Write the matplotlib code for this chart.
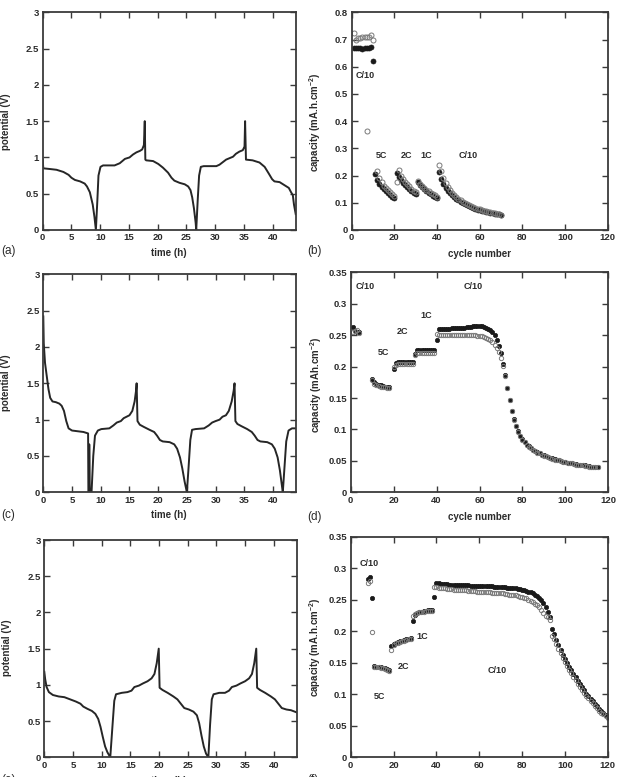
import matplotlib
matplotlib.use("Agg")
import matplotlib.pyplot as plt
from matplotlib.ticker import FuncFormatter

plt.rcParams['font.family'] = ['Liberation Sans', 'DejaVu Sans']
plt.rcParams['mathtext.default'] = 'regular'

# ---------------- data: potential vs time ----------------
ta = [0, 0.1, 1.3, 2.4, 3.6, 4.5, 5.0, 5.6, 6.5, 7.3, 7.7, 8.2, 8.7, 9.0, 9.25, 9.5, 9.7, 10.05,
      10.5, 12.5, 13.4, 14.3, 15.1, 15.7, 16.3, 16.9, 17.3, 17.6, 17.75, 17.85,
      18.0, 19.2, 20.1, 20.9, 21.8, 22.4, 22.9, 23.8, 24.7, 25.3, 25.7, 26.0, 26.3, 26.6, 26.7,
      26.95, 27.2, 27.5, 28.0, 30.2, 30.75, 31.9, 33.1, 33.6, 34.2, 34.8, 35.1, 35.2, 35.35,
      36.5, 37.7, 38.6, 39.3, 39.9, 40.3, 41.2, 42.0, 42.8, 43.2, 43.5, 43.7, 44.0]
va = [0.97, 0.85, 0.84, 0.83, 0.80, 0.76, 0.72, 0.69, 0.67, 0.64, 0.60, 0.52, 0.35, 0.18, 0.0, 0.4, 0.75, 0.87,
      0.89, 0.89, 0.92, 0.98, 1.00, 1.04, 1.07, 1.09, 1.11, 1.17, 1.50, 0.97,
      0.96, 0.95, 0.91, 0.86, 0.79, 0.72, 0.68, 0.65, 0.63, 0.60, 0.55, 0.45, 0.30, 0.10, 0.0,
      0.4, 0.75, 0.87, 0.88, 0.88, 0.90, 0.97, 1.01, 1.05, 1.08, 1.10, 1.15, 1.50, 0.97,
      0.96, 0.93, 0.87, 0.78, 0.70, 0.67, 0.66, 0.62, 0.58, 0.52, 0.48, 0.35, 0.22]

tc = [0, 0.08, 0.3, 0.6, 0.9, 1.2, 1.6, 2.2, 2.8, 3.2, 3.6, 4.0, 4.4, 5, 6, 7, 7.8, 7.85, 7.95, 8.0, 8.1,
      8.4, 8.7, 9.0, 9.5, 10.1, 11.5, 12.2, 12.8, 13.5, 14, 14.5, 15, 15.5, 15.9, 16.15, 16.25, 16.4,
      16.8, 17.5, 18.5, 19.3, 19.8, 20.3, 20.8, 22, 22.8, 23.3, 23.8, 24.2, 24.6, 25.0, 25.3, 25.6,
      25.9, 26.5, 28, 28.8, 29.4, 30, 30.7, 31.2, 31.8, 32.3, 32.8, 33.15, 33.3, 33.45, 33.8, 34.5,
      35.5, 36.3, 36.8, 37.3, 37.8, 39, 39.8, 40.3, 40.8, 41.2, 41.5, 41.7, 42.0, 42.3, 42.7, 43.3, 44]
vc = [2.42, 2.05, 1.78, 1.6, 1.42, 1.30, 1.25, 1.24, 1.22, 1.19, 1.12, 0.98, 0.88, 0.85, 0.84, 0.83, 0.81, 0.0, 0.0, 0.66, 0.0,
      0.0, 0.5, 0.78, 0.85, 0.87, 0.88, 0.92, 0.96, 0.98, 1.02, 1.04, 1.06, 1.12, 1.25, 1.40, 1.50, 0.98,
      0.93, 0.90, 0.86, 0.83, 0.78, 0.72, 0.70, 0.69, 0.66, 0.60, 0.48, 0.33, 0.15, 0.0, 0.35, 0.72,
      0.86, 0.87, 0.88, 0.92, 0.96, 0.98, 1.00, 1.04, 1.06, 1.12, 1.25, 1.40, 1.50, 0.98, 0.94, 0.91,
      0.87, 0.83, 0.78, 0.72, 0.70, 0.69, 0.66, 0.60, 0.48, 0.30, 0.12, 0.0, 0.35, 0.70, 0.85, 0.88, 0.88]

te = [0, 0.15, 0.4, 0.8, 1.5, 2.5, 3.5, 4.5, 5.5, 6.3, 6.8, 7.5, 8.3, 8.9, 9.4, 9.8, 10.2, 10.6, 11.0, 11.5,
      11.9, 12.2, 12.5, 13.5, 14.5, 15.2, 15.7, 16.5, 17.2, 18, 18.7, 19.2, 19.6, 19.95, 20.1,
      20.6, 21.5, 22.5, 23.2, 23.8, 24.4, 25.2, 26, 26.6, 27.0, 27.4, 27.8, 28.2, 28.6,
      28.9, 29.2, 29.5, 30.5, 31.5, 32.2, 32.7, 33.5, 34.2, 35, 35.7, 36.2, 36.6, 36.95, 37.1,
      37.6, 38.5, 39.5, 40.2, 40.8, 41.4, 42.2, 43, 44]
ve = [1.18, 1.08, 0.97, 0.90, 0.86, 0.84, 0.83, 0.80, 0.77, 0.74, 0.70, 0.67, 0.64, 0.60, 0.53, 0.42, 0.28, 0.15, 0.07, 0.0,
      0.45, 0.78, 0.87, 0.89, 0.90, 0.92, 0.97, 0.99, 1.02, 1.05, 1.09, 1.15, 1.30, 1.50, 0.96,
      0.93, 0.89, 0.84, 0.80, 0.74, 0.68, 0.66, 0.63, 0.58, 0.47, 0.30, 0.15, 0.05, 0.0,
      0.45, 0.80, 0.87, 0.89, 0.89, 0.92, 0.97, 0.99, 1.02, 1.05, 1.09, 1.15, 1.30, 1.50, 0.96,
      0.93, 0.89, 0.84, 0.80, 0.74, 0.68, 0.66, 0.65, 0.62]

# ---------------- data: capacity vs cycle ----------------
# panel b
b_fill_x = list(range(1, 71))
b_fill_y = [0.667, 0.668, 0.670, 0.667, 0.666, 0.668, 0.669, 0.670, 0.672, 0.620,
            0.207, 0.183, 0.168, 0.158, 0.150, 0.142, 0.135, 0.128, 0.122, 0.117,
            0.210, 0.195, 0.183, 0.173, 0.165, 0.157, 0.150, 0.143, 0.137, 0.131,
            0.175, 0.165, 0.157, 0.150, 0.143, 0.137, 0.131, 0.126, 0.121, 0.116,
            0.213, 0.187, 0.168, 0.155, 0.145, 0.136, 0.128, 0.121, 0.115, 0.109,
            0.104, 0.099, 0.095, 0.091, 0.087, 0.084, 0.081, 0.078, 0.075, 0.073,
            0.071, 0.069, 0.067, 0.065, 0.063, 0.061, 0.060, 0.058, 0.057, 0.055]
b_open_x = list(range(1, 11)) + [7] + list(range(12, 71))
b_open_y = [0.725, 0.700, 0.705, 0.707, 0.708, 0.709, 0.710, 0.711, 0.715, 0.700,
            0.362,
            0.215, 0.190, 0.175, 0.163, 0.154, 0.146, 0.139, 0.132, 0.126,
            0.178, 0.220, 0.200, 0.188, 0.177, 0.168, 0.160, 0.152, 0.145, 0.138,
            0.180, 0.170, 0.162, 0.155, 0.148, 0.142, 0.137, 0.132, 0.127, 0.122,
            0.238, 0.216, 0.190, 0.172, 0.158, 0.146, 0.137, 0.128, 0.121, 0.115,
            0.109, 0.104, 0.099, 0.095, 0.091, 0.087, 0.084, 0.081, 0.078, 0.076,
            0.073, 0.071, 0.069, 0.067, 0.065, 0.063, 0.061, 0.060, 0.058, 0.056]

# panel d
d_fill_x = list(range(1, 5)) + list(range(10, 19)) + list(range(20, 30)) + list(range(30, 40)) + list(range(40, 116))
d_fill_y = [0.263, 0.257, 0.255, 0.255,
            0.181, 0.176, 0.173, 0.171, 0.170, 0.169, 0.168, 0.168, 0.167,
            0.196, 0.206, 0.207, 0.207, 0.207, 0.207, 0.207, 0.207, 0.207, 0.207,
            0.220, 0.226, 0.226, 0.226, 0.226, 0.226, 0.226, 0.226, 0.226, 0.226,
            0.242,
            0.260, 0.260, 0.260, 0.260, 0.260, 0.260, 0.261, 0.261, 0.261, 0.261,
            0.262, 0.262, 0.262, 0.263, 0.263, 0.263, 0.264, 0.264, 0.264, 0.264,
            0.264, 0.263, 0.262, 0.260, 0.258, 0.255, 0.251, 0.243, 0.233, 0.221,
            0.204, 0.186, 0.166, 0.147, 0.130, 0.116, 0.105, 0.097, 0.090, 0.085,
            0.080, 0.076, 0.073, 0.070, 0.068, 0.066, 0.064, 0.062, 0.060, 0.059,
            0.057, 0.056, 0.055, 0.054, 0.053, 0.052, 0.051, 0.050, 0.049, 0.048,
            0.047, 0.047, 0.046, 0.045, 0.045, 0.044, 0.044, 0.043, 0.043, 0.042,
            0.042, 0.041, 0.041, 0.041, 0.040]
d_open_x = d_fill_x
d_open_y = [0.255, 0.256, 0.258, 0.254,
            0.179, 0.172, 0.170, 0.169, 0.168, 0.167, 0.167, 0.166, 0.166,
            0.200, 0.203, 0.204, 0.204, 0.204, 0.204, 0.204, 0.204, 0.204, 0.204,
            0.219, 0.221, 0.221, 0.221, 0.221, 0.221, 0.221, 0.221, 0.221, 0.221,
            0.252,
            0.251, 0.251, 0.251, 0.251, 0.251, 0.251, 0.251, 0.251, 0.251, 0.251,
            0.251, 0.251, 0.250, 0.250, 0.250, 0.250, 0.250, 0.250, 0.249, 0.249,
            0.248, 0.247, 0.246, 0.244, 0.242, 0.239, 0.235, 0.229, 0.223, 0.214,
            0.201, 0.185, 0.166, 0.147, 0.129, 0.115, 0.105, 0.096, 0.090, 0.084,
            0.080, 0.076, 0.072, 0.070, 0.068, 0.066, 0.063, 0.062, 0.060, 0.058,
            0.057, 0.056, 0.055, 0.053, 0.052, 0.051, 0.051, 0.050, 0.049, 0.048,
            0.047, 0.046, 0.046, 0.045, 0.044, 0.044, 0.043, 0.043, 0.042, 0.042,
            0.041, 0.041, 0.041, 0.040, 0.040]

# panel f
f_fill_x = list(range(8, 121))
f_fill_y = [0.283, 0.286, 0.253,
            0.145, 0.144, 0.144, 0.143, 0.142, 0.141, 0.140, 0.138,
            0.177, 0.180, 0.182, 0.183, 0.184, 0.185, 0.186, 0.187, 0.188, 0.189,
            0.216, 0.226, 0.229, 0.230, 0.231, 0.232, 0.232, 0.233, 0.233, 0.233,
            0.255,
            0.276, 0.276, 0.275, 0.275, 0.275, 0.275, 0.274, 0.274, 0.274, 0.274,
            0.274, 0.273, 0.273, 0.273, 0.273, 0.273, 0.272, 0.272, 0.272, 0.272,
            0.272, 0.272, 0.271, 0.271, 0.271, 0.271, 0.271, 0.270, 0.270, 0.270,
            0.270, 0.270, 0.270, 0.269, 0.269, 0.269, 0.268, 0.268, 0.267, 0.267,
            0.266, 0.265, 0.264, 0.263, 0.262, 0.260, 0.258, 0.256, 0.253, 0.250,
            0.245, 0.239, 0.230, 0.223, 0.204, 0.195, 0.186, 0.178, 0.170, 0.163,
            0.156, 0.150, 0.144, 0.138, 0.132, 0.127, 0.121, 0.116, 0.111, 0.106,
            0.101, 0.097, 0.093, 0.089, 0.085, 0.081, 0.077, 0.073, 0.070, 0.067,
            0.064]
f_open_x = f_fill_x
f_open_y = [0.277, 0.279, 0.199,
            0.144, 0.143, 0.143, 0.142, 0.141, 0.140, 0.139, 0.137,
            0.170, 0.178, 0.181, 0.182, 0.183, 0.184, 0.185, 0.186, 0.187, 0.188,
            0.224, 0.227, 0.229, 0.230, 0.231, 0.231, 0.232, 0.232, 0.232, 0.232,
            0.270,
            0.270, 0.269, 0.269, 0.268, 0.268, 0.267, 0.267, 0.267, 0.266, 0.266,
            0.266, 0.265, 0.265, 0.265, 0.265, 0.264, 0.264, 0.264, 0.264, 0.263,
            0.263, 0.263, 0.263, 0.262, 0.262, 0.262, 0.261, 0.261, 0.261, 0.260,
            0.260, 0.260, 0.259, 0.259, 0.258, 0.258, 0.257, 0.257, 0.256, 0.255,
            0.254, 0.253, 0.252, 0.250, 0.248, 0.246, 0.244, 0.241, 0.238, 0.234,
            0.229, 0.224, 0.222, 0.218, 0.193, 0.187, 0.180, 0.172, 0.165, 0.158,
            0.151, 0.145, 0.139, 0.133, 0.127, 0.122, 0.117, 0.112, 0.107, 0.102,
            0.098, 0.094, 0.090, 0.086, 0.082, 0.078, 0.074, 0.071, 0.068, 0.065,
            0.062]

time_ticks = [0, 5, 10, 15, 20, 25, 30, 35, 40]
pot_ticks = [0, 0.5, 1, 1.5, 2, 2.5, 3]
cyc_ticks = [0, 20, 40, 60, 80, 100, 120]
cap_ticks_b = [0, 0.1, 0.2, 0.3, 0.4, 0.5, 0.6, 0.7, 0.8]
cap_ticks_df = [0, 0.05, 0.1, 0.15, 0.2, 0.25, 0.3, 0.35]

notes_b = [("C/10", 6.5, 0.566), ("5C", 14, 0.274), ("2C", 25.5, 0.274), ("1C", 35, 0.274), ("C/10", 54.5, 0.274)]
notes_d = [("C/10", 6.7, 0.327), ("5C", 15.1, 0.223), ("2C", 23.9, 0.256), ("1C", 35.1, 0.281), ("C/10", 57.1, 0.327)]
notes_f = [("C/10", 8.6, 0.308), ("5C", 13.6, 0.096), ("2C", 24.6, 0.144), ("1C", 33.4, 0.192), ("C/10", 68.5, 0.137)]

# ---------------- figure ----------------
W, H = 619, 777
fig = plt.figure(figsize=(W / 100, H / 100), dpi=100)

def px_axes(l, t, r, b):
    return fig.add_axes([l / W, 1 - b / H, (r - l) / W, (b - t) / H])

FC = '#2b2b2b'
fmt = FuncFormatter(lambda v, p: '%g' % round(v, 3))

def style(ax):
    for s in ax.spines.values():
        s.set_linewidth(1.3)
        s.set_color('#3a3a3a')
    ax.tick_params(direction='in', top=True, right=True, length=4, width=1.0,
                   color='#3a3a3a', labelsize=6.8, labelcolor=FC, pad=2.5)
    for lab in ax.get_xticklabels() + ax.get_yticklabels():
        lab.set_fontweight('bold')
    ax.xaxis.set_major_formatter(fmt)
    ax.yaxis.set_major_formatter(fmt)

def pot_panel(ax, t, v):
    ax.plot(t, v, color='#262626', lw=1.4)
    ax.set_xlim(0, 44)
    ax.set_ylim(0, 3)
    ax.set_xticks(time_ticks)
    ax.set_yticks(pot_ticks)
    style(ax)

def cap_panel(ax, xf, yf, xo, yo, ymax, yticks, notes, ms):
    ax.plot(xf, yf, 'o', ls='none', ms=ms, color='#1a1a1a', mec='#1a1a1a', mew=0.5)
    ax.plot(xo, yo, 'o', ls='none', ms=ms, mfc='none', mec='#7a7a7a', mew=0.7)
    ax.set_xlim(0, 120)
    ax.set_ylim(0, ymax)
    ax.set_xticks(cyc_ticks)
    ax.set_yticks(yticks)
    for txt, x, y in notes:
        ax.text(x, y, txt, fontsize=6.5, fontweight='bold', color=FC, ha='center', va='center')
    style(ax)

ax_a = px_axes(42.7, 12.3, 295.7, 230)
ax_b = px_axes(351.7, 12.3, 607.7, 230)
ax_c = px_axes(43.3, 274.3, 296, 492.3)
ax_d = px_axes(350.7, 272.3, 608.3, 492.3)
ax_e = px_axes(44.3, 540, 296.7, 757.3)
ax_f = px_axes(350.7, 536.7, 607.7, 757.3)

pot_panel(ax_a, ta, va)
pot_panel(ax_c, tc, vc)
pot_panel(ax_e, te, ve)
cap_panel(ax_b, b_fill_x, b_fill_y, b_open_x, b_open_y, 0.8, cap_ticks_b, notes_b, 3.6)
cap_panel(ax_d, d_fill_x, d_fill_y, d_open_x, d_open_y, 0.35, cap_ticks_df, notes_d, 3.1)
cap_panel(ax_f, f_fill_x, f_fill_y, f_open_x, f_open_y, 0.35, cap_ticks_df, notes_f, 3.1)

def ftext(x, y, s, **kw):
    fig.text(x / W, 1 - y / H, s, **kw)

lab_kw = dict(fontsize=7, fontweight='bold', color=FC, ha='center', va='center')
# y labels
ftext(6, 122, 'potential (V)', rotation=90, **lab_kw)
ftext(6, 383, 'potential (V)', rotation=90, **lab_kw)
ftext(7, 648, 'potential (V)', rotation=90, **lab_kw)
ftext(315, 122, 'capacity (mA.h.cm$^{-2}$)', rotation=90, **lab_kw)
ftext(316, 385, 'capacity (mAh.cm$^{-2}$)', rotation=90, **lab_kw)
ftext(315, 647, 'capacity (mA.h.cm$^{-2}$)', rotation=90, **lab_kw)
# x labels
ftext(169, 253, 'time (h)', **lab_kw)
ftext(480, 254, 'cycle number', **lab_kw)
ftext(169, 515, 'time (h)', **lab_kw)
ftext(480, 517, 'cycle number', **lab_kw)
ftext(169, 781, 'time (h)', **lab_kw)
ftext(480, 782, 'cycle number', **lab_kw)
# panel letters
pl_kw = dict(fontsize=8.5, color=FC, ha='left', va='center')
ftext(1, 251, '(a)', **pl_kw)
ftext(307, 251, '(b)', **pl_kw)
ftext(1, 515, '(c)', **pl_kw)
ftext(307, 517, '(d)', **pl_kw)
ftext(1, 780, '(e)', **pl_kw)
ftext(307, 780, '(f)', **pl_kw)

fig.savefig('out.png', dpi=100)
